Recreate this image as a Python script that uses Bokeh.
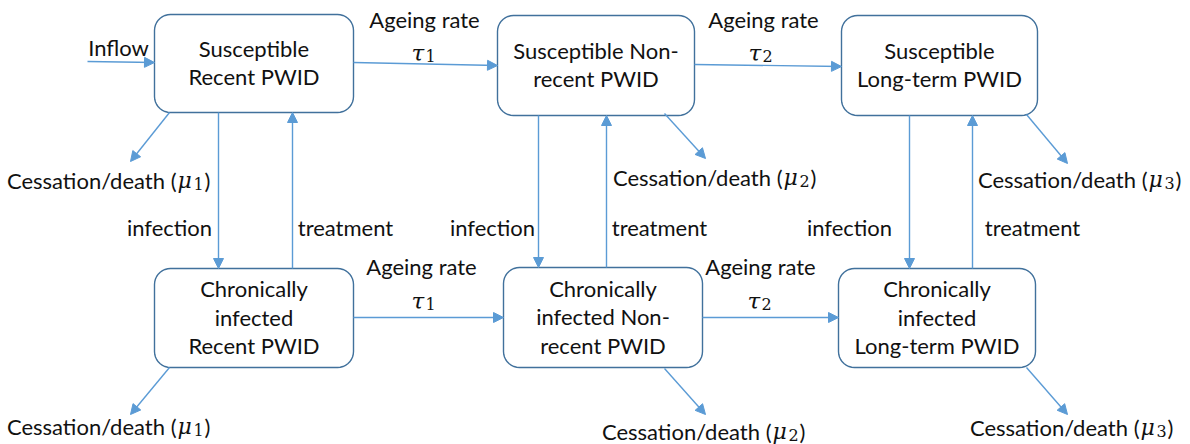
import numpy as np
from bokeh.plotting import figure
from bokeh.models import Range1d, Arrow, NormalHead, ColumnDataSource
from bokeh.core.properties import value
from bokeh.embed import file_html
from bokeh.resources import INLINE

# ---------------- content ----------------
box_labels = [
    ["Susceptible", "Recent PWID"],
    ["Susceptible Non-", "recent PWID"],
    ["Susceptible", "Long-term PWID"],
    ["Chronically", "infected", "Recent PWID"],
    ["Chronically", "infected Non-", "recent PWID"],
    ["Chronically", "infected", "Long-term PWID"],
]
inflow_label = "Inflow"
ageing_labels = ["Ageing rate", "Ageing rate", "Ageing rate", "Ageing rate"]
rate_symbols = ["τ", "τ", "τ", "τ"]
rate_indices = ["1", "2", "1", "2"]
transition_labels = ["infection", "treatment", "infection", "treatment", "infection", "treatment"]
death_text = ["Cessation/death (", "Cessation/death (", "Cessation/death (",
              "Cessation/death (", "Cessation/death (", "Cessation/death ("]
death_indices = ["1", "2", "3", "1", "2", "3"]

# ---------------- layout (pixel space) ----------------
box_x0 = [154, 497, 841, 154, 503, 838]
box_x1 = [353, 694, 1037, 353, 702, 1035]
box_y0 = [14, 15, 15, 268, 267, 268]
box_y1 = [112, 115, 115, 367, 367, 367]
radius = 16

inflow_pos = (118, 47)
ageing_x = [424, 763, 421, 760]
ageing_y = [19, 19, 266, 266]
tau_x = [411, 748, 411, 747]
tau_y = [52, 52, 300, 300]
trans_x = [169, 345, 492, 659, 849, 1032]
trans_y = [227] * 6
death_x0 = [10, 616, 981, 10, 605, 973]
death_y = [180, 177, 179, 426, 431, 427]

arrow_x0 = [87, 353, 694, 353, 702, 218, 292, 538, 606, 909, 972, 169, 169, 664, 664, 1026, 1026]
arrow_y0 = [61, 62, 64, 317, 317, 112, 268, 115, 267, 115, 268, 112, 367, 113, 368, 114, 367]
arrow_x1 = [154, 497, 841, 503, 838, 218, 292, 538, 606, 909, 972, 130, 130, 705, 705, 1067, 1067]
arrow_y1 = [62, 65, 66, 317, 317, 268, 112, 267, 115, 268, 115, 161, 414, 158, 414, 163, 414]

LINE = "#5B9BD5"
BORDER = "#41719C"
TXT = "#111111"
FONT = value("Lato")
FS = "22px"
MATH = value("DejaVu Serif")

W, H = 1190, 444
p = figure(width=W, height=H, x_range=Range1d(0, W), y_range=Range1d(H, 0),
           output_backend="svg", toolbar_location=None, min_border=0)
p.axis.visible = False
p.grid.visible = False
p.outline_line_color = None
p.background_fill_color = "white"
p.border_fill_color = "white"


def rrect(x0, y0, x1, y1, r, n=10):
    xs, ys = [], []
    specs = [(x0 + r, y0 + r, np.pi, 1.5 * np.pi),
             (x1 - r, y0 + r, 1.5 * np.pi, 2 * np.pi),
             (x1 - r, y1 - r, 0, 0.5 * np.pi),
             (x0 + r, y1 - r, 0.5 * np.pi, np.pi)]
    for cx, cy, a0, a1 in specs:
        t = np.linspace(a0, a1, n)
        xs.extend(cx + r * np.cos(t))
        ys.extend(cy + r * np.sin(t))
    return xs, ys


bxs, bys = [], []
for i in range(6):
    xs, ys = rrect(box_x0[i], box_y0[i], box_x1[i], box_y1[i], radius)
    bxs.append(xs)
    bys.append(ys)
p.patches(bxs, bys, fill_color="white", line_color=BORDER, line_width=1.4)

# box labels
lx, ly, lt = [], [], []
spacing = 28.5
for i, lines in enumerate(box_labels):
    cx = (box_x0[i] + box_x1[i]) / 2
    cy = (box_y0[i] + box_y1[i]) / 2 - 1
    n = len(lines)
    for k, s in enumerate(lines):
        lx.append(cx)
        ly.append(cy + (k - (n - 1) / 2) * spacing)
        lt.append(s)
p.text(lx, ly, text=lt, text_align="center", text_baseline="middle",
       text_font=FONT, text_font_size=FS, text_color=TXT)

# arrows
src = ColumnDataSource(dict(x0=arrow_x0, y0=arrow_y0, x1=arrow_x1, y1=arrow_y1))
p.add_layout(Arrow(x_start="x0", y_start="y0", x_end="x1", y_end="y1", source=src,
                   line_color=LINE, line_width=1.4,
                   end=NormalHead(size=10, fill_color=LINE, line_color=LINE, line_width=1)))

# inflow
p.text([inflow_pos[0]], [inflow_pos[1]], text=[inflow_label], text_align="center",
       text_baseline="middle", text_font=FONT, text_font_size=FS, text_color=TXT)

# ageing labels
p.text(ageing_x, ageing_y, text=ageing_labels, text_align="center", text_baseline="middle",
       text_font=FONT, text_font_size=FS, text_color=TXT)
p.text(tau_x, tau_y, text=rate_symbols, text_align="left",
       text_baseline="middle", text_font=MATH, text_font_style="italic",
       text_font_size="23px", text_color=TXT)
p.text([x + 14 for x in tau_x], [y + 3 for y in tau_y], text=rate_indices, text_align="left",
       text_baseline="middle", text_font=MATH, text_font_size="16px",
       text_color=TXT)

# infection / treatment
p.text(trans_x, trans_y, text=transition_labels, text_align="center", text_baseline="middle",
       text_font=FONT, text_font_size=FS, text_color=TXT)

# cessation / death: main text then mu, subscript and closing bracket
anchor = [x + 166 for x in death_x0]
p.text(anchor, death_y, text=death_text, text_align="right", text_baseline="middle",
       text_font=FONT, text_font_size=FS, text_color=TXT)
p.text([a + 1 for a in anchor], death_y, text=["μ"] * 6, text_align="left",
       text_baseline="middle", text_font=MATH, text_font_style="italic", text_font_size=FS,
       text_color=TXT)
p.text([a + 17 for a in anchor], [y + 3 for y in death_y], text=death_indices,
       text_align="left", text_baseline="middle", text_font=MATH, text_font_size="16px",
       text_color=TXT)
p.text([a + 28 for a in anchor], death_y, text=[")"] * 6, text_align="left",
       text_baseline="middle", text_font=FONT, text_font_size=FS, text_color=TXT)

open("out.html", "w").write(file_html(p, INLINE))
